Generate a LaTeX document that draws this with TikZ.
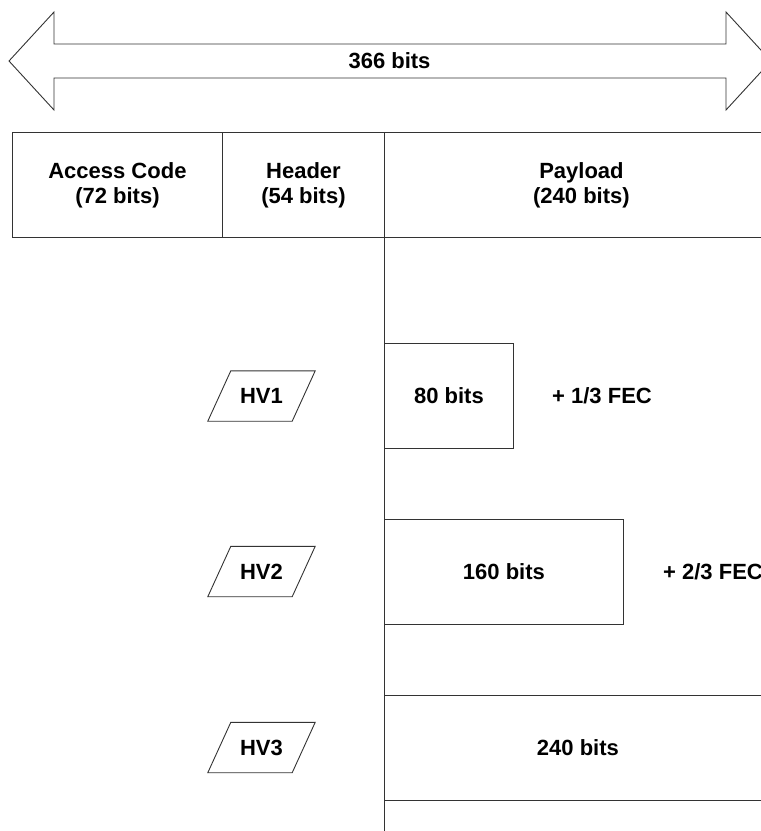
\documentclass[tikz,border=0pt]{standalone}
\usepackage{fontspec}
\setmainfont{Liberation Sans}
\begin{document}
\begin{tikzpicture}[x=1pt,y=-1pt,
  lbl/.style={font=\bfseries\fontsize{22}{25}\selectfont, align=center, inner sep=0pt},
  ln/.style={draw=black!80, line width=0.9pt},
  field/.style={ln, rectangle, anchor=north west, lbl},
  hv/.style={lbl, rectangle, minimum width=84, minimum height=50}
]
\useasboundingbox (0,0) rectangle (761,831);

% overall frame length arrow
\draw[ln, fill=white] (9,61) -- (54,12) -- (54,44) -- (726,44) -- (726,12) -- (771,61)
  -- (726,110) -- (726,78) -- (54,78) -- (54,110) -- cycle;
\node[lbl] (total) at (389.5,61) {366 bits};

% packet fields
\node[field, minimum width=210, minimum height=105] (ac) at (12,132) {Access Code\\(72 bits)};
\node[field, minimum width=162, minimum height=105] (hd) at (222,132) {Header\\(54 bits)};
\node[field, minimum width=394, minimum height=105] (pl) at (384,132) {Payload\\(240 bits)};

% payload boundary
\coordinate (vbot) at (384,831);
\draw[ln] (pl.south west) -- (vbot);

% HV packet types, each in a slanted box
\node[hv] (hv1) at (261.5,396) {HV1};
\node[hv] (hv2) at (261.5,571.5) {HV2};
\node[hv] (hv3) at (261.5,747.5) {HV3};
\foreach \n in {hv1,hv2,hv3}
  \draw[ln] ([xshift=-11.5]\n.south west) -- ([xshift=11.5]\n.north west)
    -- ([xshift=11.5]\n.north east) -- ([xshift=-11.5]\n.south east) -- cycle;

\node[field, minimum width=129, minimum height=105] (b1) at (384,343) {80 bits};
\node[field, minimum width=239, minimum height=105] (b2) at (384,519) {160 bits};
\node[field, minimum width=387, minimum height=105] (b3) at (384,695) {240 bits};

\node[lbl] (fec1) at (602,396) {+ 1/3 FEC};
\node[lbl, anchor=west] (fec2) at (663,571.5) {+ 2/3 FEC};
\end{tikzpicture}
\end{document}
